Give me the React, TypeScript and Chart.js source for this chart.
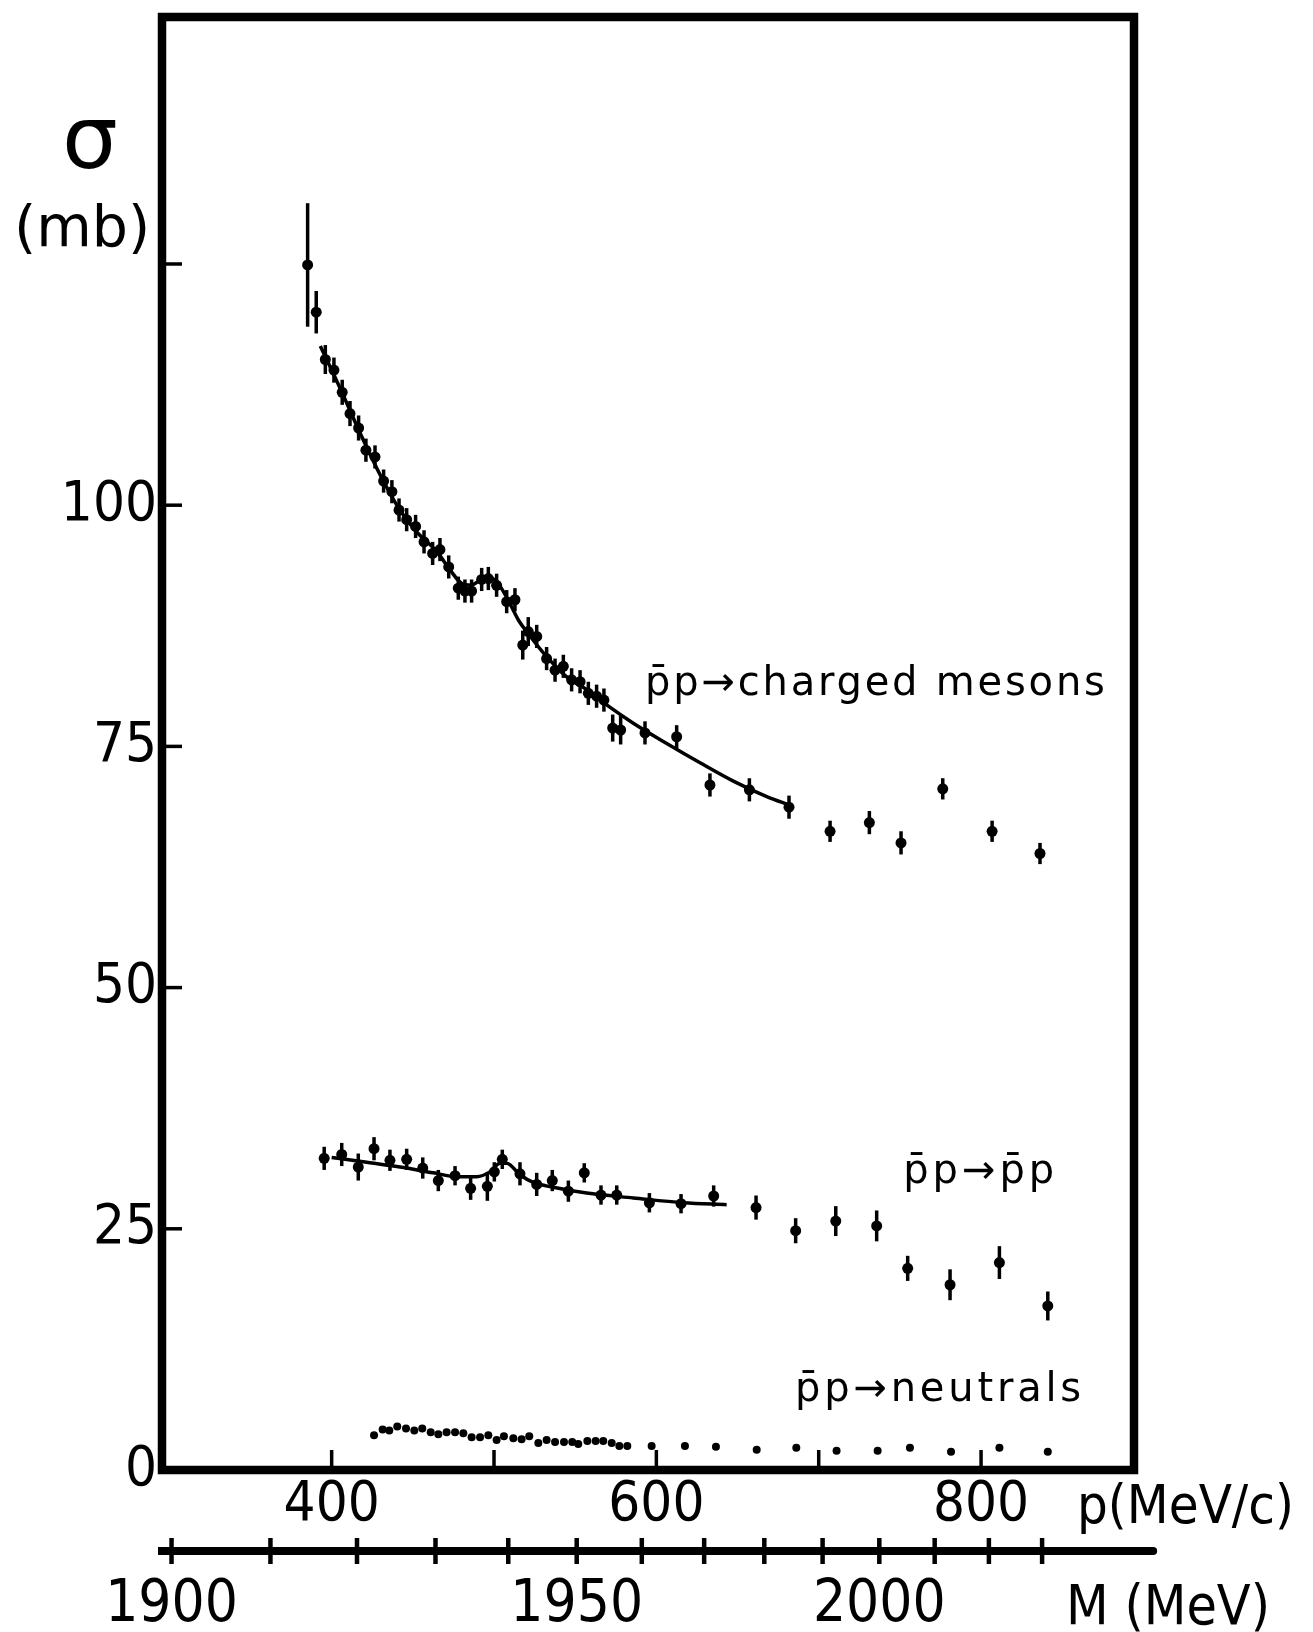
import React, { useEffect, useRef } from 'react';
import { Chart, registerables } from 'chart.js';

Chart.register(...registerables);

// ---------------- data ----------------
// p̄p → charged mesons : beam momentum p (MeV/c), cross section σ (mb), error (mb)
const chargedP = [
  385.2, 390.5, 396.1, 401.4, 406.5, 411.3, 416.6, 421.1, 426.7, 432.0,
  437.1, 441.5, 446.2, 451.7, 456.9, 462.2, 466.7, 472.1, 478.0, 482.1,
  486.2, 492.4, 496.5, 501.6, 507.8, 512.9, 517.7, 521.1, 526.3, 532.4,
  537.6, 542.7, 547.8, 553.0, 558.1, 563.2, 567.7, 573.1, 578.0, 593.0,
  612.5, 633.0, 657.3, 681.7, 707.0, 731.2, 750.7, 776.4, 806.8, 836.3,
];
const chargedSigma = [
  124.9, 120.0, 115.1, 114.0, 111.7, 109.5, 108.0, 105.7, 105.0, 102.5,
  101.4, 99.5, 98.5, 97.8, 96.2, 95.0, 95.4, 93.6, 91.4, 91.1,
  91.1, 92.3, 92.4, 91.7, 90.0, 90.2, 85.5, 86.9, 86.4, 84.1,
  82.9, 83.3, 81.9, 81.7, 80.5, 80.2, 79.8, 76.9, 76.7, 76.4,
  76.0, 71.0, 70.5, 68.7, 66.2, 67.1, 65.0, 70.6, 66.2, 63.9,
];
const chargedErr = [
  6.4, 2.2, 1.5, 1.3, 1.3, 1.3, 1.3, 1.2, 1.2, 1.2,
  1.2, 1.2, 1.2, 1.2, 1.2, 1.2, 1.2, 1.2, 1.2, 1.2,
  1.2, 1.2, 1.2, 1.2, 1.2, 1.2, 1.5, 1.5, 1.2, 1.2,
  1.2, 1.2, 1.2, 1.2, 1.2, 1.2, 1.2, 1.4, 1.5, 1.2,
  1.2, 1.2, 1.2, 1.2, 1.1, 1.2, 1.2, 1.1, 1.1, 1.1,
];
// fitted curve through the charged-meson data
const chargedCurveP = [
  393, 405, 418, 430, 442, 452, 464.7, 472.9, 480, 486, 492, 497.5, 503.7,
  509.8, 515, 521, 530.4, 544.8, 557, 569.4, 585.8, 606.4, 626.9, 647.4, 668, 682.3,
];
const chargedCurveSigma = [
  116.5, 112.2, 107.3, 103.1, 99.5, 97.3, 95.2, 93.3, 91.9, 91.7, 92.3, 92.5, 91.6,
  89.8, 88.1, 86.7, 84.7, 82.2, 80.9, 79.3, 77.4, 75.3, 73.3, 71.4, 69.8, 68.9,
];

// p̄p → p̄p (elastic)
const elasticP = [
  395.4, 406.2, 416.4, 426.1, 435.9, 446.2, 456.1, 465.7, 476.0, 485.6,
  495.9, 500.2, 505.1, 516.0, 526.3, 535.9, 545.8, 555.6, 565.9, 575.6,
  595.7, 615.2, 635.3, 661.4, 685.8, 710.5, 735.7, 754.8, 780.9, 811.3, 841.1,
];
const elasticSigma = [
  32.3, 32.7, 31.4, 33.3, 32.1, 32.2, 31.3, 30.0, 30.5, 29.2,
  29.4, 30.9, 32.2, 30.7, 29.6, 30.0, 28.9, 30.8, 28.5, 28.5,
  27.7, 27.6, 28.4, 27.2, 24.8, 25.8, 25.3, 20.9, 19.2, 21.5, 17.0,
];
const elasticErr = [
  1.2, 1.2, 1.4, 1.2, 1.1, 1.1, 1.1, 1.1, 1.0, 1.2,
  1.5, 1.0, 1.0, 1.2, 1.2, 1.1, 1.1, 1.0, 1.0, 1.0,
  1.0, 1.0, 1.1, 1.25, 1.3, 1.55, 1.6, 1.3, 1.6, 1.7, 1.5,
];
const elasticCurveP = [
  400, 421.6, 442.1, 462.6, 477, 489.3, 497.5, 503.7, 507.8, 516, 524.2, 536.5, 557.1, 585.8, 616.6, 643.3,
];
const elasticCurveSigma = [
  32.4, 31.9, 31.4, 30.8, 30.4, 30.4, 30.9, 31.8, 31.8, 30.6, 29.8, 29.3, 28.7, 28.2, 27.7, 27.5,
];

// p̄p → neutrals
const neutralP = [
  426.1, 431.4, 435.5, 440.4, 445.8, 450.9, 455.8, 461.0, 465.7, 470.8,
  476.0, 481.1, 486.2, 491.4, 496.5, 501.6, 506.1, 511.9, 517.0, 521.7,
  527.3, 532.4, 537.6, 543.1, 548.2, 551.9, 557.5, 562.6, 567.3, 572.5,
  577.2, 582.1, 597.1, 617.6, 636.7, 661.8, 686.2, 711.0, 736.3, 756.2,
  781.5, 811.3, 841.1,
];
const neutralSigma = [
  3.6, 4.2, 4.1, 4.5, 4.3, 4.1, 4.3, 3.9, 3.7, 3.9,
  3.9, 3.8, 3.4, 3.4, 3.6, 3.1, 3.5, 3.3, 3.2, 3.5,
  2.8, 3.1, 2.9, 2.9, 2.9, 2.7, 3.0, 3.0, 3.0, 2.8,
  2.5, 2.5, 2.5, 2.5, 2.4, 2.1, 2.3, 2.0, 2.0, 2.3,
  1.9, 2.3, 1.9,
];

// ---------------- axes ----------------
const pMin = 295.5;
const pMax = 894.2;
const massLineEndP = 906;
const sigmaMin = 0;
const sigmaMax = 150.6;
const sigmaTickStep = 25;
const sigmaLabelValues = [0, 25, 50, 75, 100];
const sigmaInnerTicks = [25, 50, 75, 100, 125];
const pTickValues = [400, 500, 600, 700, 800];
const pLabelValues = [400, 600, 800];
const pInnerTicks = [400, 500, 600, 700, 800];
const massTicks = [1900, 1910, 1920, 1930, 1940, 1950, 1960, 1970, 1980, 1990, 2000, 2010, 2020, 2030];
const massTickLabels = ['1900', '', '', '', '', '1950', '', '', '', '', '2000', '', '', ''];

// invariant mass M of p̄p  <->  antiproton lab momentum p (axis mapping)
const PROTON_MASS = 938.27;
const momentumForMass = (M: number) => {
  const m2 = PROTON_MASS * PROTON_MASS;
  const E = (M * M - 2 * m2) / (2 * PROTON_MASS);
  return Math.sqrt(E * E - m2);
};

const annotations = [
  { text: 'p\u0304p\u2192charged mesons', p: 593, sigma: 80.3, spacing: '2.8px' },
  { text: 'p\u0304p\u2192p\u0304p', p: 752, sigma: 29.7, spacing: '4px' },
  { text: 'p\u0304p\u2192neutrals', p: 685.4, sigma: 7.2, spacing: '3.8px' },
];

const W = 1313;
const H = 1632;
const NUM_FONT = "'DejaVu Sans Condensed', 'DejaVu Sans', sans-serif";
const TXT_FONT = "'DejaVu Sans', sans-serif";

const toXY = (xs: number[], ys: number[]) => xs.map((x, i) => ({ x, y: ys[i] }));

const errorBarPlugin = {
  id: 'errorBars',
  afterDatasetsDraw(chart: any) {
    const ctx = chart.ctx;
    const ys = chart.scales.y;
    chart.data.datasets.forEach((ds: any, i: number) => {
      if (!ds.errors) return;
      const meta = chart.getDatasetMeta(i);
      ctx.save();
      ctx.strokeStyle = '#000';
      ctx.lineWidth = 3.5;
      meta.data.forEach((pt: any, j: number) => {
        const v = ds.data[j].y;
        const e = ds.errors[j];
        ctx.beginPath();
        ctx.moveTo(pt.x, ys.getPixelForValue(v + e));
        ctx.lineTo(pt.x, ys.getPixelForValue(v - e));
        ctx.stroke();
      });
      ctx.restore();
    });
  },
};

const decorPlugin = {
  id: 'decor',
  afterDraw(chart: any) {
    const { ctx, chartArea: a, scales } = chart;
    const xs = scales.x;
    const ys = scales.y;
    const ms = scales.m;
    const line = (x1: number, y1: number, x2: number, y2: number) => {
      ctx.beginPath();
      ctx.moveTo(x1, y1);
      ctx.lineTo(x2, y2);
      ctx.stroke();
    };
    ctx.save();
    ctx.strokeStyle = '#000';
    ctx.fillStyle = '#000';
    ctx.lineCap = 'butt';
    ctx.lineWidth = 8.5;
    ctx.strokeRect(a.left, a.top, a.right - a.left, a.bottom - a.top);

    ctx.lineWidth = 3.5;
    sigmaInnerTicks.forEach((v) => {
      const y = ys.getPixelForValue(v);
      line(a.left, y, a.left + 20, y);
    });
    pInnerTicks.forEach((v) => {
      const x = xs.getPixelForValue(v);
      line(x, a.bottom, x, a.bottom - 20);
    });

    // mass axis: extend its line a little past the frame, and draw the crossing ticks
    ctx.lineWidth = 8;
    ctx.lineCap = 'round';
    line(ms.right - 4, ms.top, ms.getPixelForValue(massLineEndP), ms.top);
    ctx.lineCap = 'butt';
    ctx.lineWidth = 4.5;
    massTicks.forEach((M) => {
      const x = ms.getPixelForValue(momentumForMass(M));
      line(x, ms.top - 13, x, ms.top + 13);
    });

    const text = (t: string, x: number, y: number, font: string, spacing = '0px') => {
      ctx.font = font;
      (ctx as any).letterSpacing = spacing;
      ctx.textAlign = 'left';
      ctx.textBaseline = 'alphabetic';
      ctx.fillText(t, x, y);
    };

    annotations.forEach((an) => {
      text(an.text, xs.getPixelForValue(an.p), ys.getPixelForValue(an.sigma), `40px ${TXT_FONT}`, an.spacing);
    });

    // axis titles
    text('\u03C3', 62, 168, `88px ${TXT_FONT}`);
    text('(mb)', 14, 246, `57px ${TXT_FONT}`);
    text('p(MeV/c)', 1077, 1523, `54px ${NUM_FONT}`);
    text('M (MeV)', 1066, 1624, `55px ${NUM_FONT}`);
    ctx.restore();
  },
};

export default function App() {
  const ref = useRef<HTMLCanvasElement | null>(null);

  useEffect(() => {
    if (!ref.current) return;
    const tickFont = { family: NUM_FONT, size: 56 };
    const chart = new Chart(ref.current, {
      type: 'scatter',
      data: {
        datasets: [
          {
            type: 'scatter',
            label: 'charged mesons',
            data: toXY(chargedP, chargedSigma),
            errors: chargedErr,
            pointRadius: 5.5,
            pointBackgroundColor: '#000',
            pointBorderColor: '#000',
            pointBorderWidth: 0,
          } as any,
          {
            type: 'line',
            label: 'charged fit',
            data: toXY(chargedCurveP, chargedCurveSigma),
            borderColor: '#000',
            borderWidth: 3.5,
            pointRadius: 0,
            cubicInterpolationMode: 'monotone',
            fill: false,
          } as any,
          {
            type: 'scatter',
            label: 'elastic',
            data: toXY(elasticP, elasticSigma),
            errors: elasticErr,
            pointRadius: 5.5,
            pointBackgroundColor: '#000',
            pointBorderColor: '#000',
            pointBorderWidth: 0,
          } as any,
          {
            type: 'line',
            label: 'elastic fit',
            data: toXY(elasticCurveP, elasticCurveSigma),
            borderColor: '#000',
            borderWidth: 3.5,
            pointRadius: 0,
            cubicInterpolationMode: 'monotone',
            fill: false,
          } as any,
          {
            type: 'scatter',
            label: 'neutrals',
            data: toXY(neutralP, neutralSigma),
            pointRadius: 4,
            pointBackgroundColor: '#000',
            pointBorderColor: '#000',
            pointBorderWidth: 0,
          } as any,
        ],
      },
      options: {
        animation: false,
        responsive: false,
        devicePixelRatio: 1,
        layout: { autoPadding: false, padding: { left: 0, top: 17, right: 179, bottom: 0 } },
        plugins: { legend: { display: false }, tooltip: { enabled: false } },
        scales: {
          x: {
            type: 'linear',
            position: 'bottom',
            weight: 0,
            min: pMin,
            max: pMax,
            afterBuildTicks: (s: any) => {
              s.ticks = pTickValues.map((v) => ({ value: v }));
            },
            ticks: {
              autoSkip: false,
              maxRotation: 0,
              minRotation: 0,
              padding: 2,
              color: '#000',
              font: tickFont,
              callback: (v: any) => (pLabelValues.includes(Number(v)) ? String(v) : ''),
            },
            grid: { display: false, drawTicks: false },
            border: { display: false },
            afterFit: (s: any) => {
              s.height = 81;
              s.paddingLeft = 0;
              s.paddingRight = 0;
            },
          },
          m: {
            type: 'linear',
            position: 'bottom',
            weight: 1,
            min: pMin,
            max: pMax,
            afterBuildTicks: (s: any) => {
              s.ticks = massTicks.map((M) => ({ value: momentumForMass(M) }));
            },
            ticks: {
              autoSkip: false,
              maxRotation: 0,
              minRotation: 0,
              padding: 20,
              color: '#000',
              font: { family: NUM_FONT, size: 58 },
              callback: (_v: any, i: number) => massTickLabels[i] ?? '',
            },
            grid: { display: true, drawOnChartArea: false, drawTicks: false, color: 'rgba(0,0,0,0)' },
            border: { display: true, width: 8, color: '#000' },
            afterFit: (s: any) => {
              s.height = 81;
              s.paddingLeft = 0;
              s.paddingRight = 0;
            },
          },
          y: {
            type: 'linear',
            position: 'left',
            min: sigmaMin,
            max: sigmaMax,
            afterBuildTicks: (s: any) => {
              const t = [];
              for (let v = sigmaMin; v <= sigmaMax; v += sigmaTickStep) t.push({ value: v });
              s.ticks = t;
            },
            ticks: {
              autoSkip: false,
              padding: 5,
              color: '#000',
              font: tickFont,
              callback: (v: any) => (sigmaLabelValues.includes(Number(v)) ? String(v) : ''),
            },
            grid: { display: false, drawTicks: false },
            border: { display: false },
            afterFit: (s: any) => {
              s.width = 162;
              s.paddingTop = 0;
              s.paddingBottom = 0;
            },
          },
        },
      } as any,
      plugins: [errorBarPlugin, decorPlugin],
    });
    return () => chart.destroy();
  }, []);

  return (
    <div style={{ position: 'absolute', left: 0, top: 0, width: W, height: H, background: '#fff' }}>
      <canvas ref={ref} width={W} height={H} style={{ display: 'block', width: W, height: H }} />
    </div>
  );
}
